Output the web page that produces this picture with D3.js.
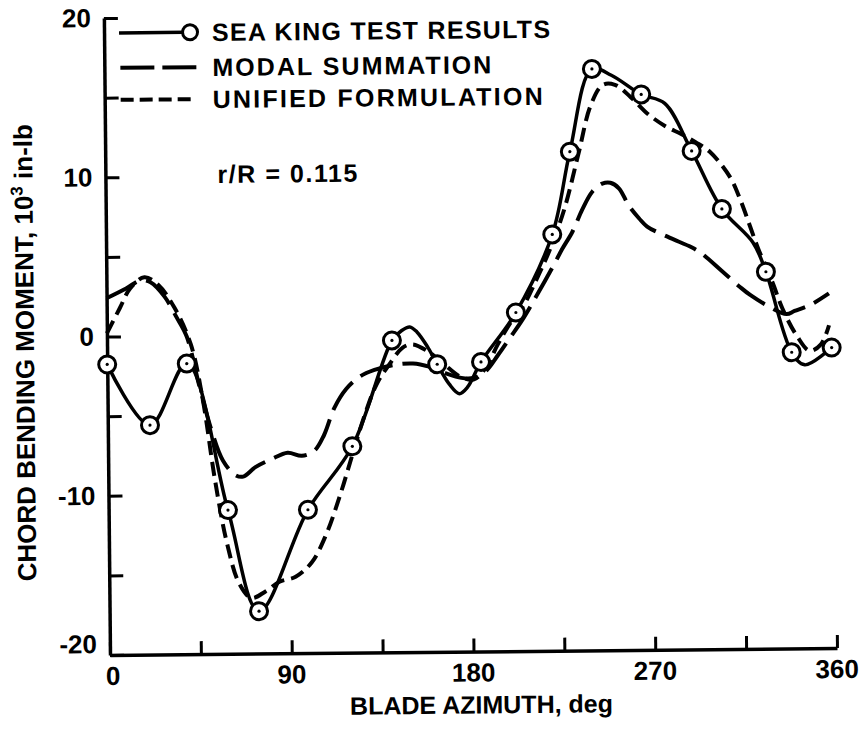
<!DOCTYPE html>
<html>
<head>
<meta charset="utf-8">
<script src="https://cdn.jsdelivr.net/npm/d3@7"></script>
<style>
  html, body { margin: 0; padding: 0; background: #fff; }
  svg { display: block; }
  text { font-family: "Liberation Sans", Arial, Helvetica, sans-serif; font-weight: bold; fill: #000; }
</style>
</head>
<body>
<svg id="chart" width="867" height="730"></svg>
<script>
// Chord bending moment at r/R = 0.115, in 10^3 in-lb, versus blade azimuth in degrees.

// Sea King flight test points
const testAzimuth = [0, 20.9, 39.4, 59.1, 74.0, 98.7, 121.0, 141.1, 163.4, 185.1, 202.6, 221.0, 230.1, 241.4, 265.7, 290.4, 305.1, 326.6, 339.0, 358.8];
const testMoment  = [-1.75, -5.59, -1.75, -10.97, -17.34, -11.0, -7.04, -0.42, -1.94, -1.82, 1.26, 6.14, 11.33, 16.51, 14.88, 11.3, 7.64, 3.67, -1.4, -1.13];

// faired curve drawn through the test points
const testCurveAzimuth = [0, 20.9, 39.4, 59.1, 74.0, 98.7, 121.0, 141.1, 146, 150, 153.5, 158.5, 163.4, 169.3, 174.2, 178.3, 185.1, 202.6, 221.0, 230.1, 241.4, 251, 265.7, 277.3, 290.4, 305.1, 320.4, 326.6, 339.0, 345.4, 358.8];
const testCurveMoment  = [-1.75, -5.59, -1.75, -10.97, -17.34, -11.0, -7.04, -0.42, 0.2, 0.42, 0.1, -0.8, -1.94, -3.2, -3.8, -3.4, -1.82, 1.26, 6.14, 11.33, 16.51, 16.1, 14.88, 14.3, 11.3, 7.64, 5.5, 3.67, -1.4, -2.2, -1.13];

// modal summation prediction
const modalAzimuth = [0, 9.7, 16.8, 21.8, 28.7, 34.6, 39.5, 45.3, 51.1, 56.9, 62.8, 66.8, 72.9, 80.9, 88.9, 95.9, 102, 107, 112.2, 118.2, 125.3, 132.3, 141.4, 151.4, 159.4, 167.3, 175.3, 181.3, 187.3, 193.4, 199.5, 205.6, 212.7, 220.8, 225.9, 231, 236, 241, 246, 250, 254.2, 259.1, 264.1, 268, 279, 289.9, 294.9, 304.8, 313.7, 318.7, 327.6, 336.6, 340.6, 348.7, 357.7];
const modalMoment  = [2.4, 3.0, 3.5, 3.38, 2.47, 1.16, -0.05, -3.05, -5.86, -7.87, -8.77, -8.88, -8.29, -7.8, -7.41, -7.61, -7.32, -6.33, -4.63, -3.44, -2.65, -2.26, -1.97, -1.88, -2.09, -2.5, -2.81, -2.82, -2.42, -1.43, -0.34, 0.76, 2.25, 4.04, 5.23, 6.3, 7.7, 8.8, 9.3, 9.35, 9.0, 7.89, 7.09, 6.58, 5.87, 5.25, 4.85, 3.74, 2.73, 2.22, 1.51, 1.0, 1.19, 1.58, 2.27];

// unified formulation prediction
const unifiedAzimuth = [0, 6.6, 11.7, 18.8, 25.7, 33.6, 41.5, 47.2, 52.8, 58.5, 64.3, 70.3, 77.3, 84.3, 92.3, 100.4, 107.5, 114.7, 120.9, 127.1, 133.3, 139.4, 146.4, 151.5, 158.4, 166.4, 174.3, 181.3, 187.3, 193.5, 199.6, 206.7, 213.8, 219.9, 227.1, 234.4, 240.6, 246.7, 252.7, 260.6, 268.6, 277.5, 285.5, 292.4, 299.4, 309.3, 314.2, 319, 322.9, 329.8, 334.6, 341.5, 347.9, 353.5, 357.6];
const unifiedMoment  = [0.2, 1.8, 3.0, 3.7, 3.2, 1.76, -0.55, -4.05, -9.06, -13.07, -15.58, -16.5, -16.1, -15.5, -15.2, -14.3, -12.6, -10.1, -7.6, -5.15, -3.16, -1.97, -0.87, -0.68, -1.09, -1.9, -2.7, -2.92, -2.22, -0.73, 0.56, 1.75, 3.55, 5.24, 7.73, 11.22, 14.21, 15.5, 15.5, 14.7, 13.68, 12.87, 12.36, 11.85, 11.24, 9.63, 8.23, 6.52, 5.12, 3.0, 1.35, -0.35, -1.32, -0.92, 0.27];

const yTickValues = [-20, -15, -10, -5, 0, 5, 10, 15, 20];
const yTickLabels = [-20, -10, 0, 10, 20];
const xTickValues = [0, 45, 90, 135, 180, 225, 270, 315, 360];
const xTickLabels = [0, 90, 180, 270, 360];
const legendLabels = ["SEA KING TEST RESULTS", "MODAL SUMMATION", "UNIFIED FORMULATION"];
const noteText = "r/R = 0.115";
const xTitle = "BLADE AZIMUTH, deg";

const svg = d3.select("#chart");
svg.append("rect").attr("width", 867).attr("height", 730).attr("fill", "#fff");

// the whole plate sits a hair off square
const plot = svg.append("g").attr("transform", "rotate(-0.55,110,655)");

const x = d3.scaleLinear().domain([0, 360]).range([110, 837]);
const y = d3.scaleLinear().domain([-20, 20]).range([655, 18]);

// axes with inward ticks
const yAxis = plot.append("g").attr("transform", `translate(${x(0)},0)`)
  .call(d3.axisLeft(y).tickValues(yTickValues).tickSize(-14).tickSizeOuter(0).tickFormat(""));
const xAxis = plot.append("g").attr("transform", `translate(0,${y(-20)})`)
  .call(d3.axisBottom(x).tickValues(xTickValues).tickSize(-13).tickSizeOuter(0).tickFormat(""));
[yAxis, xAxis].forEach(a => {
  a.select(".domain").attr("stroke", "#000").attr("stroke-width", 3.5);
  a.selectAll(".tick line").attr("stroke", "#000").attr("stroke-width", 3);
});

// tick labels
plot.append("g").selectAll("text").data(yTickLabels).join("text")
  .attr("x", x(0) - 13)
  .attr("y", d => y(d) + (d === -20 ? -2 : 9))
  .attr("text-anchor", "end")
  .attr("font-size", 26)
  .text(d => d);
plot.append("g").selectAll("text").data(xTickLabels).join("text")
  .attr("x", d => x(d) + (d === 0 ? 3 : 0))
  .attr("y", y(-20) + 30)
  .attr("text-anchor", "middle")
  .attr("font-size", 26)
  .text(d => d);

// curves
const lineGen = d3.line().x(d => x(d[0])).y(d => y(d[1])).curve(d3.curveCatmullRom.alpha(0.5));
const modalPts = modalAzimuth.map((a, i) => [a, modalMoment[i]]);
const unifiedPts = unifiedAzimuth.map((a, i) => [a, unifiedMoment[i]]);
const testCurvePts = testCurveAzimuth.map((a, i) => [a, testCurveMoment[i]]);
const testPts = testAzimuth.map((a, i) => [a, testMoment[i]]);

plot.append("path").datum(modalPts).attr("d", lineGen)
  .attr("fill", "none").attr("stroke", "#000").attr("stroke-width", 4)
  .attr("stroke-dasharray", "34,10");
plot.append("path").datum(unifiedPts).attr("d", lineGen)
  .attr("fill", "none").attr("stroke", "#000").attr("stroke-width", 4)
  .attr("stroke-dasharray", "14,7");
plot.append("path").datum(testCurvePts).attr("d", lineGen)
  .attr("fill", "none").attr("stroke", "#000").attr("stroke-width", 3.5);

const marks = plot.append("g").selectAll("g").data(testPts).join("g")
  .attr("transform", d => `translate(${x(d[0])},${y(d[1])})`);
marks.append("circle").attr("r", 8.5).attr("fill", "#fff").attr("stroke", "#000").attr("stroke-width", 3);
marks.append("circle").attr("r", 1.6).attr("fill", "#000");

// legend
const legend = plot.append("g");
legend.append("line").attr("x1", 125).attr("x2", 190).attr("y1", 33).attr("y2", 33)
  .attr("stroke", "#000").attr("stroke-width", 3.5);
legend.append("circle").attr("cx", 196).attr("cy", 33).attr("r", 7.5)
  .attr("fill", "#fff").attr("stroke", "#000").attr("stroke-width", 3);
legend.append("line").attr("x1", 126).attr("x2", 202).attr("y1", 68).attr("y2", 68)
  .attr("stroke", "#000").attr("stroke-width", 4).attr("stroke-dasharray", "34,8");
legend.append("line").attr("x1", 126).attr("x2", 200).attr("y1", 100).attr("y2", 100)
  .attr("stroke", "#000").attr("stroke-width", 4).attr("stroke-dasharray", "13,6");
const legendWidths = [338, 279, 330];
legend.selectAll("text").data(legendLabels).join("text")
  .attr("x", 218)
  .attr("y", (d, i) => [42, 77, 109][i])
  .attr("font-size", 25)
  .attr("textLength", (d, i) => legendWidths[i])
  .attr("lengthAdjust", "spacing")
  .text(d => d);

plot.append("text").attr("x", 222).attr("y", 184).attr("font-size", 25)
  .attr("textLength", 140).attr("lengthAdjust", "spacing").text(noteText);

// axis titles
plot.append("text").attr("x", 481).attr("y", 717).attr("text-anchor", "middle")
  .attr("font-size", 25).text(xTitle);

const yTitle = plot.append("text")
  .attr("transform", "translate(37,352) rotate(-90)")
  .attr("text-anchor", "middle")
  .attr("font-size", 26);
yTitle.append("tspan").text("CHORD BENDING MOMENT, 10");
yTitle.append("tspan").attr("font-size", 17).attr("dy", -10).text("3");
yTitle.append("tspan").attr("dy", 10).text(" in-lb");
</script>
</body>
</html>
